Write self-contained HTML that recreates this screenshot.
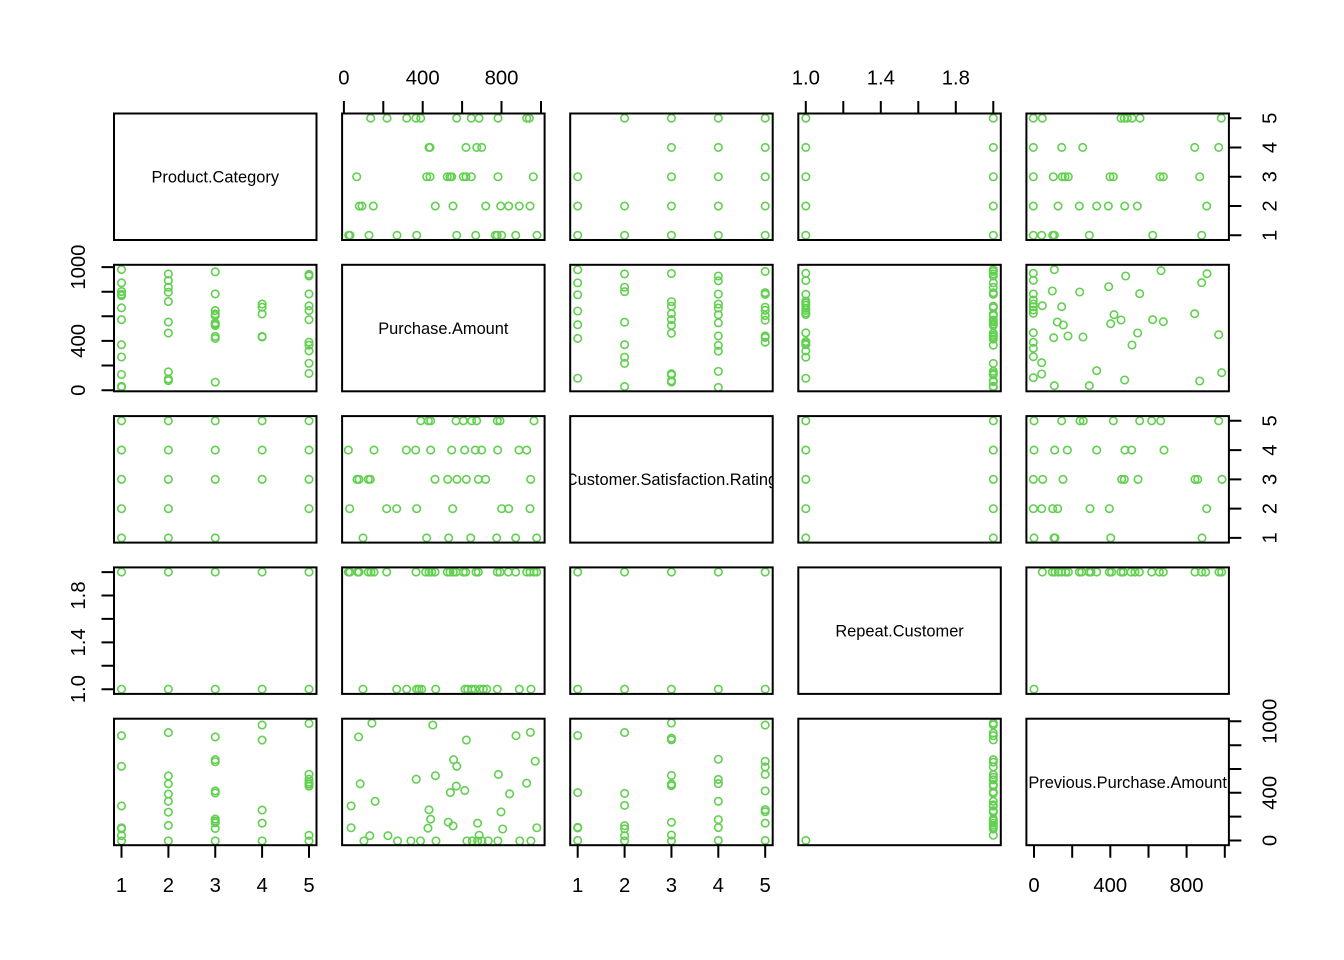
<!DOCTYPE html>
<html><head><meta charset="utf-8"><style>
html,body{margin:0;padding:0;background:#fff;}
svg{display:block;}
text{font-family:"Liberation Sans",Arial,sans-serif;fill:#000;}
.t{font-size:20.3px;}
.d{font-size:16.4px;}
</style></head><body>
<svg id="s" width="1344" height="960" viewBox="0 0 1344 960" xmlns="http://www.w3.org/2000/svg">
<rect width="1344" height="960" fill="#fff"/>
<defs>
<clipPath id="c0"><rect x="114" y="113.5" width="202.5" height="126.5"/></clipPath>
<clipPath id="c1"><rect x="342.1" y="264.8" width="202.5" height="126.5"/></clipPath>
<clipPath id="c2"><rect x="570.2" y="416.1" width="202.5" height="126.5"/></clipPath>
<clipPath id="c3"><rect x="798.3" y="567.4" width="202.5" height="126.5"/></clipPath>
<clipPath id="c4"><rect x="1026.4" y="718.7" width="202.5" height="126.5"/></clipPath>
</defs>
<g id="pts" fill="none" stroke="#61D04F" stroke-width="1.6"></g>
<g fill="none" stroke="#000" stroke-width="2">
<rect x="114" y="113.5" width="202.5" height="126.5"/><rect x="342.1" y="113.5" width="202.5" height="126.5"/><rect x="570.2" y="113.5" width="202.5" height="126.5"/><rect x="798.3" y="113.5" width="202.5" height="126.5"/><rect x="1026.4" y="113.5" width="202.5" height="126.5"/>
<rect x="114" y="264.8" width="202.5" height="126.5"/><rect x="342.1" y="264.8" width="202.5" height="126.5"/><rect x="570.2" y="264.8" width="202.5" height="126.5"/><rect x="798.3" y="264.8" width="202.5" height="126.5"/><rect x="1026.4" y="264.8" width="202.5" height="126.5"/>
<rect x="114" y="416.1" width="202.5" height="126.5"/><rect x="342.1" y="416.1" width="202.5" height="126.5"/><rect x="570.2" y="416.1" width="202.5" height="126.5"/><rect x="798.3" y="416.1" width="202.5" height="126.5"/><rect x="1026.4" y="416.1" width="202.5" height="126.5"/>
<rect x="114" y="567.4" width="202.5" height="126.5"/><rect x="342.1" y="567.4" width="202.5" height="126.5"/><rect x="570.2" y="567.4" width="202.5" height="126.5"/><rect x="798.3" y="567.4" width="202.5" height="126.5"/><rect x="1026.4" y="567.4" width="202.5" height="126.5"/>
<rect x="114" y="718.7" width="202.5" height="126.5"/><rect x="342.1" y="718.7" width="202.5" height="126.5"/><rect x="570.2" y="718.7" width="202.5" height="126.5"/><rect x="798.3" y="718.7" width="202.5" height="126.5"/><rect x="1026.4" y="718.7" width="202.5" height="126.5"/>
<path d="M343.9 113.5V101M383.3 113.5V101M422.7 113.5V101M462.1 113.5V101M501.5 113.5V101M541 113.5V101"/>
<path d="M805.8 113.5V101M843.3 113.5V101M880.8 113.5V101M918.3 113.5V101M955.8 113.5V101M993.3 113.5V101"/>
<path d="M114 390.2H101.5M114 365.5H101.5M114 340.9H101.5M114 316.3H101.5M114 291.7H101.5M114 267.1H101.5"/>
<path d="M114 689.2H101.5M114 665.8H101.5M114 642.4H101.5M114 618.9H101.5M114 595.5H101.5M114 572.1H101.5"/>
<path d="M1228.9 235.3H1241.4M1228.9 206H1241.4M1228.9 176.75H1241.4M1228.9 147.5H1241.4M1228.9 118.2H1241.4"/>
<path d="M1228.9 537.9H1241.4M1228.9 508.6H1241.4M1228.9 479.35H1241.4M1228.9 450.1H1241.4M1228.9 420.8H1241.4"/>
<path d="M1228.9 840.5H1241.4M1228.9 816.6H1241.4M1228.9 792.8H1241.4M1228.9 769H1241.4M1228.9 745.2H1241.4M1228.9 721.3H1241.4"/>
<path d="M121.5 845.2V857.7M168.4 845.2V857.7M215.25 845.2V857.7M262.1 845.2V857.7M309 845.2V857.7"/>
<path d="M577.7 845.2V857.7M624.6 845.2V857.7M671.45 845.2V857.7M718.3 845.2V857.7M765.2 845.2V857.7"/>
<path d="M1034 845.2V857.7M1072.2 845.2V857.7M1110.3 845.2V857.7M1148.5 845.2V857.7M1186.6 845.2V857.7M1224.8 845.2V857.7"/>
</g>
<g class="t" text-anchor="middle">
<text x="343.9" y="84.3">0</text><text x="422.7" y="84.3">400</text><text x="501.5" y="84.3">800</text>
<text x="805.8" y="84.3">1.0</text><text x="880.8" y="84.3">1.4</text><text x="955.8" y="84.3">1.8</text>
<text x="121.5" y="892">1</text><text x="168.4" y="892">2</text><text x="215.25" y="892">3</text><text x="262.1" y="892">4</text><text x="309" y="892">5</text>
<text x="577.7" y="892">1</text><text x="624.6" y="892">2</text><text x="671.45" y="892">3</text><text x="718.3" y="892">4</text><text x="765.2" y="892">5</text>
<text x="1034" y="892">0</text><text x="1110.3" y="892">400</text><text x="1186.6" y="892">800</text>
<text transform="translate(85,390.2) rotate(-90)">0</text>
<text transform="translate(85,340.9) rotate(-90)">400</text>
<text transform="translate(85,267.1) rotate(-90)">1000</text>
<text transform="translate(85,689.2) rotate(-90)">1.0</text>
<text transform="translate(85,642.4) rotate(-90)">1.4</text>
<text transform="translate(85,595.5) rotate(-90)">1.8</text>
<text transform="translate(1276.7,235.3) rotate(-90)">1</text>
<text transform="translate(1276.7,206) rotate(-90)">2</text>
<text transform="translate(1276.7,176.75) rotate(-90)">3</text>
<text transform="translate(1276.7,147.5) rotate(-90)">4</text>
<text transform="translate(1276.7,118.2) rotate(-90)">5</text>
<text transform="translate(1276.7,537.9) rotate(-90)">1</text>
<text transform="translate(1276.7,508.6) rotate(-90)">2</text>
<text transform="translate(1276.7,479.35) rotate(-90)">3</text>
<text transform="translate(1276.7,450.1) rotate(-90)">4</text>
<text transform="translate(1276.7,420.8) rotate(-90)">5</text>
<text transform="translate(1276.7,840.5) rotate(-90)">0</text>
<text transform="translate(1276.7,792.8) rotate(-90)">400</text>
<text transform="translate(1276.7,721.3) rotate(-90)">1000</text>
</g>
<g class="d" text-anchor="middle">
<text x="215.25" y="182.6" clip-path="url(#c0)">Product.Category</text>
<text x="443.35" y="333.9" clip-path="url(#c1)">Purchase.Amount</text>
<text x="671.45" y="485.2" clip-path="url(#c2)">Customer.Satisfaction.Rating</text>
<text x="899.55" y="636.5" clip-path="url(#c3)">Repeat.Customer</text>
<text x="1127.65" y="787.8" clip-path="url(#c4)">Previous.Purchase.Amount</text>
</g>
</svg>
<script>
(function(){
var Ls=[114,342.1,570.2,798.3,1026.4],Ts=[113.5,264.8,416.1,567.4,718.7],W=202.5,H=126.5;
function lv(k){return (0.16+k-1)/4.32;}
function rv(k){return (0.04+k-1)/1.08;}
function rx(px,c){return (px-Ls[c])/W;}
function ry(py,r){return (Ts[r]+H-py)/H;}
var pairs=[];
function add(a,b,p){pairs.push([a,b,p]);}
var k,i,p;
var A={5:[370.7,387,406.7,416,420.7,456.7,471.3,479,498,526.7,529.3],4:[429,430,466,476.7,481.7],3:[356.7,426.7,430,447.3,450,451.7,463.3,466,471.3,498,533.3],2:[359.3,362,373.3,435.3,453,485.7,500.7,508.7,519.3,530],1:[348.7,350,369,397,416.7,456.7,475.7,495.3,497.3,501.7,515.7,537]};
p=[];for(k in A){A[k].forEach(function(x){p.push([lv(+k),rx(x,1)]);});}add(0,1,p);
var B={5:[2,3,4,5],4:[3,4,5],3:[1,3,4,5],2:[1,2,3,4,5],1:[1,2,3,4,5]};
p=[];for(k in B){B[k].forEach(function(r){p.push([lv(+k),lv(r)]);});}add(0,2,p);
p=[];for(i=1;i<=5;i++){p.push([lv(i),rv(1)]);p.push([lv(i),rv(2)]);}add(0,3,p);
var D={5:[1033.3,1042.3,1121,1124.3,1127.3,1132,1140,1221.3],4:[1033.3,1061.7,1082.7,1194.7,1218.7],3:[1033.3,1053.3,1062.3,1065,1068.3,1110,1113.3,1160,1163.3,1199.7],2:[1033.3,1058,1079.3,1096.7,1108.3,1124.7,1137.3,1206.7],1:[1033.3,1041.7,1052.7,1054.3,1089.3,1152.7,1201.7]};
p=[];for(k in D){D[k].forEach(function(x){p.push([lv(+k),rx(x,4)]);});}add(0,4,p);
var E={5:[257,280,287,363,385,410,425,487,495,597],4:[40,117,214,242,287,350,389,421,440,488,552,575],3:[66,72,100,106,300,338,366,394,430,452,587],2:[44,155,185,245,353,500,521,585],1:[84,275,341,407,485,542,605]};
p=[];for(k in E){E[k].forEach(function(z){p.push([lv(+k),rx(335+z/3,1)]);});}add(2,1,p);
var F2=[40,45,68,72,100,108,117,155,243,272,282,290,300,337,345,355,363,385,392,423,430,487,495,520,542,575,585,597,605];
var F1=[84,185,215,245,252,260,302,390,398,410,420,435,445,455,487,553,588];
p=[];F2.forEach(function(z){p.push([rv(2),rx(335+z/3,1)]);});F1.forEach(function(z){p.push([rv(1),rx(335+z/3,1)]);});add(3,1,p);
var G=[[70,520],[133,509],[70,541],[70,582],[127,573],[209,576],[296,560],[347,528],[453,512],[591,521],[575,548],[389,581],[70,600],[70,612],[70,620],[70,630],[70,640],[97,617],[155,620],[142,666],[160,675],[312,644],[302,671],[333,660],[428,659],[460,665],[554,641],[70,698],[70,727],[70,745],[70,770],[131,713],[174,708],[219,711],[383,699],[366,735],[626,704],[95,788],[95,822],[70,833],[260,812],[344,840],[569,843],[635,818],[133,857],[238,857]];
p=[];G.forEach(function(q){p.push([ry(100+q[1]/3,1),rx(1010+q[0]/3,4)]);});add(1,4,p);
p=[];for(i=1;i<=5;i++){p.push([lv(i),rv(1)]);p.push([lv(i),rv(2)]);}add(2,3,p);
var I={5:[57,140,195,205,295,374,410,437,611],4:[57,119,157,245,330,350,447],3:[55,83,144,320,328,369,540,548,621],2:[55,80,113,128,225,283,575],1:[57,117,120,287,561]};
p=[];for(k in I){I[k].forEach(function(z){p.push([lv(+k),rx(1015+z/3,4)]);});}add(2,4,p);
var J2=[82,112,120,130,140,152,160,193,200,222,228,245,283,290,318,325,348,360,373,410,433,445,540,560,572,612,620];
p=[];J2.forEach(function(z){p.push([rv(2),rx(1015+z/3,4)]);});p.push([rv(1),rx(1015+57/3,4)]);add(3,4,p);

var g=document.getElementById('pts'),NS='http://www.w3.org/2000/svg';
function circ(x,y){var c=document.createElementNS(NS,'circle');c.setAttribute('cx',x.toFixed(2));c.setAttribute('cy',y.toFixed(2));c.setAttribute('r','3.75');g.appendChild(c);}
pairs.forEach(function(pr){var a=pr[0],b=pr[1];pr[2].forEach(function(q){var ra=q[0],rb=q[1];
circ(Ls[b]+rb*W,Ts[a]+H-ra*H);
circ(Ls[a]+ra*W,Ts[b]+H-rb*H);
});});
})();
</script>
</body></html>
